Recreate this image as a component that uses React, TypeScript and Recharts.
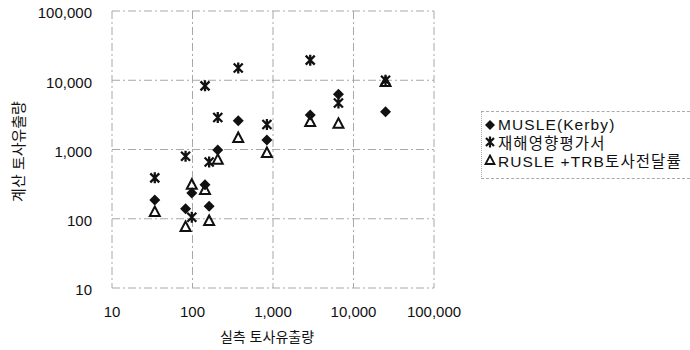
import React from 'react';
import { ScatterChart, Scatter, XAxis, YAxis, CartesianGrid } from 'recharts';

const measured = [34, 82, 98, 143, 161, 206, 370, 840, 2900, 6500, 25000];
const musleKerby = [187, 139, 235, 310, 152, 980, 2600, 1370, 3150, 6300, 3500];
const assessment = [390, 800, 105, 8300, 660, 2900, 15000, 2300, 19500, 4700, 10000];
const rusleTrb = [125, 76, 310, 260, 93, 710, 1470, 890, 2500, 2350, 9400];
const logTicks = [10, 100, 1000, 10000, 100000];
const seriesNames = ['MUSLE(Kerby)', '재해영향평가서', 'RUSLE +TRB토사전달률'];

const FONT = "'Liberation Sans', Arial, 'Noto Sans CJK KR', sans-serif";
const INK = '#111';

const toPoints = (ys: number[]) => measured.map((x, i) => ({ x, y: ys[i] }));

const fmt = (v: number) => v.toLocaleString('en-US');

const DiamondDot = (props: any) => {
  const { cx, cy } = props;
  const r = 5.5;
  return <polygon points={`${cx},${cy - r} ${cx + r},${cy} ${cx},${cy + r} ${cx - r},${cy}`} fill={INK} />;
};

const StarDot = (props: any) => {
  const { cx, cy } = props;
  const d = 4.5;
  return (
    <path
      d={`M${cx - d},${cy - d}L${cx + d},${cy + d}M${cx + d},${cy - d}L${cx - d},${cy + d}M${cx},${cy - 5.5}L${cx},${cy + 5.5}`}
      stroke={INK}
      strokeWidth={2.3}
      fill="none"
    />
  );
};

const TriangleDot = (props: any) => {
  const { cx, cy } = props;
  return (
    <polygon
      points={`${cx},${cy - 5.5} ${cx + 5},${cy + 4} ${cx - 5},${cy + 4}`}
      stroke={INK}
      strokeWidth={2}
      fill="none"
    />
  );
};

const legendMarks = [
  <polygon key="d" points="6,1 11,6 6,11 1,6" fill={INK} />,
  <path key="s" d="M2,2L10,10M10,2L2,10M6,0.5L6,11.5" stroke={INK} strokeWidth={2.2} fill="none" />,
  <polygon key="t" points="6,1.5 10.5,10 1.5,10" stroke={INK} strokeWidth={1.8} fill="none" />,
];

const YTitle = (props: any) => {
  const { viewBox } = props;
  const x = viewBox.x + 18;
  const y = viewBox.y + viewBox.height / 2 + 2;
  return (
    <text x={x} y={y} transform={`rotate(-90, ${x}, ${y})`} textAnchor="middle" dominantBaseline="central"
      fill={INK} fontSize={15} fontFamily={FONT}>
      계산 토사유출량
    </text>
  );
};

const XTitle = (props: any) => {
  const { viewBox } = props;
  const x = viewBox.x + viewBox.width / 2 - 6;
  const y = viewBox.y + 49;
  return (
    <text x={x} y={y} textAnchor="middle" dominantBaseline="central" fill={INK} fontSize={14} fontFamily={FONT}>
      실측 토사유출량
    </text>
  );
};

export default function App() {
  return (
    <div style={{ position: 'absolute', left: 0, top: 0, width: 690, height: 350, background: '#fff' }}>
      <ScatterChart width={690} height={350} margin={{ top: 11, right: 256, bottom: 12, left: 0 }}>
        <CartesianGrid stroke="#a8a8a8" strokeDasharray="8 3 2 3" />
        <XAxis
          type="number"
          dataKey="x"
          scale="log"
          domain={[10, 100000]}
          ticks={logTicks}
          allowDataOverflow
          tickFormatter={fmt}
          axisLine={false}
          tickLine={false}
          tickMargin={12}
          height={50}
          tick={{ fill: INK, fontSize: 15, fontFamily: FONT }}
          label={<XTitle />}
        />
        <YAxis
          type="number"
          dataKey="y"
          scale="log"
          domain={[10, 100000]}
          ticks={logTicks}
          allowDataOverflow
          tickFormatter={fmt}
          axisLine={false}
          tickLine={false}
          tickMargin={14}
          width={112}
          tick={{ fill: INK, fontSize: 15, fontFamily: FONT, dy: 2 }}
          label={<YTitle />}
        />
        <Scatter name={seriesNames[0]} data={toPoints(musleKerby)} shape={<DiamondDot />} isAnimationActive={false} />
        <Scatter name={seriesNames[1]} data={toPoints(assessment)} shape={<StarDot />} isAnimationActive={false} />
        <Scatter name={seriesNames[2]} data={toPoints(rusleTrb)} shape={<TriangleDot />} isAnimationActive={false} />
      </ScatterChart>
      <div
        style={{
          position: 'absolute',
          left: 481,
          top: 111,
          width: 209,
          height: 68,
          borderTop: '1px dashed #aaa',
          borderBottom: '1px dashed #aaa',
          borderLeft: '1px dotted #aaa',
          boxSizing: 'border-box',
          paddingTop: 4,
          fontFamily: FONT,
          fontSize: 15.5,
          color: INK,
          overflow: 'hidden',
        }}
      >
        {seriesNames.map((name, i) => (
          <div key={name} style={{ display: 'flex', alignItems: 'center', height: 17.5, whiteSpace: 'nowrap' }}>
            <svg width={12} height={12} style={{ marginLeft: 2, marginRight: 2 }}>
              {legendMarks[i]}
            </svg>
            <span style={{ letterSpacing: 1.1 }}>{name}</span>
          </div>
        ))}
      </div>
    </div>
  );
}
